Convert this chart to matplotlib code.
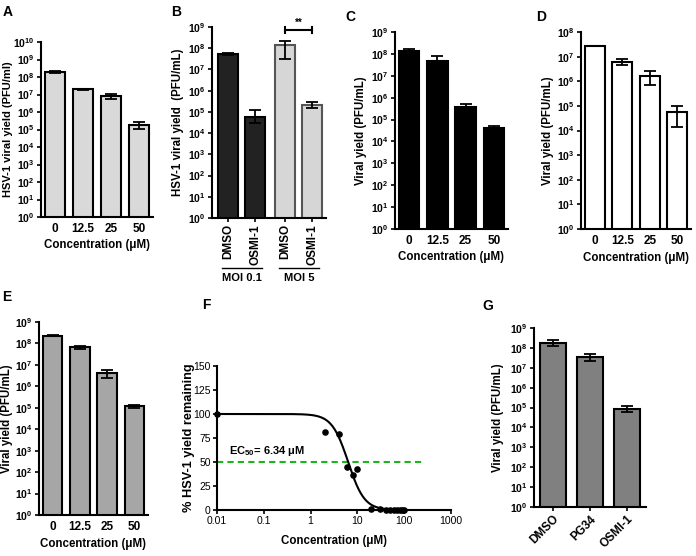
import numpy as np
import matplotlib
matplotlib.use('Agg')
import matplotlib.pyplot as plt
from matplotlib.ticker import FixedLocator, FuncFormatter, NullLocator

plt.rcParams['font.family'] = ['Liberation Sans', 'DejaVu Sans']
plt.rcParams['mathtext.fontset'] = 'custom'
plt.rcParams['mathtext.rm'] = 'Liberation Sans:bold'
plt.rcParams['mathtext.bf'] = 'Liberation Sans:bold'
plt.rcParams['mathtext.it'] = 'Liberation Sans:bold'

W, H = 696, 556

# ---- data ----
conc_labels = ['0', '12.5', '25', '50']

a_vals = [2.0e8, 2.0e7, 8.0e6, 1.7e5]
a_lo = [1.7e8, 1.8e7, 5.5e6, 1.1e5]
a_hi = [2.3e8, 2.2e7, 1.1e7, 2.6e5]

b_labels = ['DMSO', 'OSMI-1', 'DMSO', 'OSMI-1']
b_vals = [5.5e7, 6.0e4, 1.4e8, 2.2e5]
b_lo = [5.0e7, 3.0e4, 3.0e7, 1.6e5]
b_hi = [6.2e7, 1.2e5, 2.3e8, 2.9e5]
b_groups = ['MOI 0.1', 'MOI 5']

c_vals = [1.4e8, 4.5e7, 3.8e5, 4.3e4]
c_lo = [1.1e8, 2.0e7, 2.8e5, 3.5e4]
c_hi = [1.7e8, 8.0e7, 5.0e5, 5.2e4]

d_vals = [2.7e7, 6.0e6, 1.6e6, 5.5e4]
d_lo = [2.6e7, 4.5e6, 7.0e5, 1.4e4]
d_hi = [2.8e7, 8.0e6, 2.6e6, 1.0e5]

e_vals = [2.3e8, 6.5e7, 4.0e6, 1.15e5]
e_lo = [2.2e8, 5.5e7, 2.5e6, 1.0e5]
e_hi = [2.4e8, 7.5e7, 5.8e6, 1.3e5]

f_x = [0.01, 2, 4, 6, 8, 10, 20, 30, 40, 50, 60, 70, 80, 90, 100]
f_y = [100, 81, 79, 45, 36, 43, 1.5, 1, 0.5, 0, 0, 0, 0, 0, 0]
f_ec50 = 6.34
f_hill = 2.5
f_top, f_bottom = 100, 0

g_labels = ['DMSO', 'PG34', 'OSMI-1']
g_vals = [1.8e8, 3.5e7, 8.5e4]
g_lo = [1.2e8, 2.2e7, 5.8e4]
g_hi = [2.5e8, 5.2e7, 1.2e5]

fig = plt.figure(figsize=(W / 100, H / 100), dpi=100)


def px_axes(x0, y0, x1, y1):
    return fig.add_axes([x0 / W, 1 - y1 / H, (x1 - x0) / W, (y1 - y0) / H])


def ylab(text, px, y0, y1, size=8.3):
    # y label placed by figure pixel, centred on the axis height
    fig.text(px / W, 1 - (y0 + y1) / 2 / H, text, rotation=90, ha='center', va='center',
             fontsize=size, fontweight='bold')


def style(ax):
    for s in ['top', 'right']:
        ax.spines[s].set_visible(False)
    for s in ['left', 'bottom']:
        ax.spines[s].set_linewidth(1.5)
    ax.tick_params(width=1.2, length=3, labelsize=7.5, pad=1.5)


def log_fmt(v, pos):
    return r'$\mathbf{10^{%d}}$' % int(round(np.log10(v)))


def log_bars(ax, x, vals, lo, hi, top, color, edge='black', width=0.72):
    ax.set_yscale('log')
    ax.bar(x, vals, width=width, color=color, edgecolor=edge, linewidth=1.5, zorder=2)
    vals = np.array(vals); lo = np.array(lo); hi = np.array(hi)
    ax.errorbar(x, vals, yerr=[vals - lo, hi - vals], fmt='none', ecolor='black',
                elinewidth=1.3, capsize=4, capthick=1.3, zorder=3)
    ax.set_ylim(1, 10 ** top)
    ax.yaxis.set_major_locator(FixedLocator([10.0 ** k for k in range(top + 1)]))
    ax.yaxis.set_minor_locator(NullLocator())
    ax.yaxis.set_major_formatter(FuncFormatter(log_fmt))
    style(ax)


lab = dict(fontsize=8.3, fontweight='bold')
cat = dict(fontsize=8.5, fontweight='bold')

# A
ax = px_axes(41, 42, 153, 217)
x = np.arange(4)
log_bars(ax, x, a_vals, a_lo, a_hi, 10, '#d9d9d9')
ax.set_xlim(-0.5, 3.5)
ax.set_xticks(x)
ax.set_xticklabels(conc_labels, **cat)
ax.tick_params(axis='x', length=0, pad=4)
ax.set_xlabel('Concentration (μM)', labelpad=3, **lab)
ylab('HSV-1 viral yield (PFU/ml)', 8, 42, 217, size=8)

# B
ax = px_axes(212, 27, 326, 218)
xb = np.array([0, 1, 2.1, 3.1])
log_bars(ax, xb[:2], b_vals[:2], b_lo[:2], b_hi[:2], 9, '#222222', width=0.74)
log_bars(ax, xb[2:], b_vals[2:], b_lo[2:], b_hi[2:], 9, '#d6d6d6', edge='#555555', width=0.74)
ax.set_xlim(-0.6, 3.6)
ax.set_xticks(xb)
ax.set_xticklabels(b_labels, rotation=90, **cat)
ylab('HSV-1 viral yield  (PFU/mL)', 178, 27, 218)
tr = ax.get_xaxis_transform()
for (i0, i1), g in zip([(0, 1), (2, 3)], b_groups):
    ax.plot([xb[i0] - 0.25, xb[i1] + 0.25], [-0.26, -0.26], color='black', lw=1,
            transform=tr, clip_on=False)
    ax.text((xb[i0] + xb[i1]) / 2, -0.29, g, transform=tr, ha='center', va='top',
            fontsize=8, fontweight='bold')
ax.plot([xb[2], xb[3]], [7.5e8, 7.5e8], color='black', lw=1.5, clip_on=False)
ax.plot([xb[2], xb[2]], [5.5e8, 1.0e9], color='black', lw=1.5, clip_on=False)
ax.plot([xb[3], xb[3]], [5.5e8, 1.0e9], color='black', lw=1.5, clip_on=False)
ax.text((xb[2] + xb[3]) / 2, 1.6e9, '**', ha='center', va='center', fontsize=7, fontweight='bold')

# C
ax = px_axes(395, 32, 508, 229)
log_bars(ax, x, c_vals, c_lo, c_hi, 9, 'black')
ax.set_xlim(-0.5, 3.5)
ax.set_xticks(x)
ax.set_xticklabels(conc_labels, **cat)
ax.tick_params(axis='x', length=0, pad=4)
ax.set_xlabel('Concentration (μM)', labelpad=3, **lab)
ylab('Viral yield (PFU/mL)', 361, 32, 229)

# D
ax = px_axes(581, 32, 691, 229)
log_bars(ax, x, d_vals, d_lo, d_hi, 8, 'white')
ax.set_xlim(-0.5, 3.5)
ax.set_xticks(x)
ax.set_xticklabels(conc_labels, **cat)
ax.tick_params(axis='x', length=0, pad=4)
ax.set_xlabel('Concentration (μM)', labelpad=4, **lab)
ylab('Viral yield (PFU/mL)', 548, 32, 229)

# E
ax = px_axes(39, 322, 148, 515)
log_bars(ax, x, e_vals, e_lo, e_hi, 9, '#a6a6a6')
ax.set_xlim(-0.5, 3.5)
ax.set_xticks(x)
ax.set_xticklabels(conc_labels, **cat)
ax.tick_params(axis='x', length=0, pad=4)
ax.set_xlabel('Concentration (μM)', labelpad=4, **lab)
ylab('Viral yield (PFU/mL)', 7, 322, 515)

# F
ax = px_axes(217, 366, 451, 510)
ax.set_xscale('log')
xc = np.logspace(-2, 2, 300)
yc = f_bottom + (f_top - f_bottom) / (1 + (xc / f_ec50) ** f_hill)
ax.plot(xc, yc, color='black', lw=1.5, zorder=3)
ax.scatter(f_x, f_y, s=14, color='black', zorder=4, clip_on=False)
ax.plot([0.01, 240], [50, 50], color='#1db51d', lw=1.5, ls=(0, (3, 2)), zorder=2)
ax.text(0.018, 54, r'EC$_{50}$= 6.34 μM', fontsize=8, fontweight='bold', va='bottom')
ax.set_xlim(0.01, 1000)
ax.set_ylim(0, 150)
ax.set_xticks([0.01, 0.1, 1, 10, 100, 1000])
ax.xaxis.set_minor_locator(NullLocator())
ax.set_yticks([0, 25, 50, 75, 100, 125, 150])
style(ax)
ax.set_xticklabels(['0.01', '0.1', '1', '10', '100', '1000'], fontsize=7.5)
ax.set_yticklabels(['0', '25', '50', '75', '100', '125', '150'], fontsize=7.5)
ax.set_xlabel('Concentration (μM)', labelpad=6, **lab)
ylab('% HSV-1 yield remaining', 189, 366, 510, size=9.2)

# G
ax = px_axes(534, 328, 646, 507)
xg = np.arange(3)
log_bars(ax, xg, g_vals, g_lo, g_hi, 9, '#808080', width=0.69)
ax.set_xlim(-0.5, 2.5)
ax.set_xticks(xg)
ax.set_xticklabels(g_labels, rotation=45, ha='right', rotation_mode='anchor', **cat)
ylab('Viral yield (PFU/mL)', 498, 328, 507)

# panel letters
for letter, (px, py) in zip('ABCDEFG', [(3, 12), (171, 12), (345, 17), (536, 17),
                                        (2, 297), (202, 305), (482, 306)]):
    fig.text(px / W, 1 - py / H, letter, fontsize=10, fontweight='bold', va='center', ha='left')

fig.savefig('out.png', dpi=100)
